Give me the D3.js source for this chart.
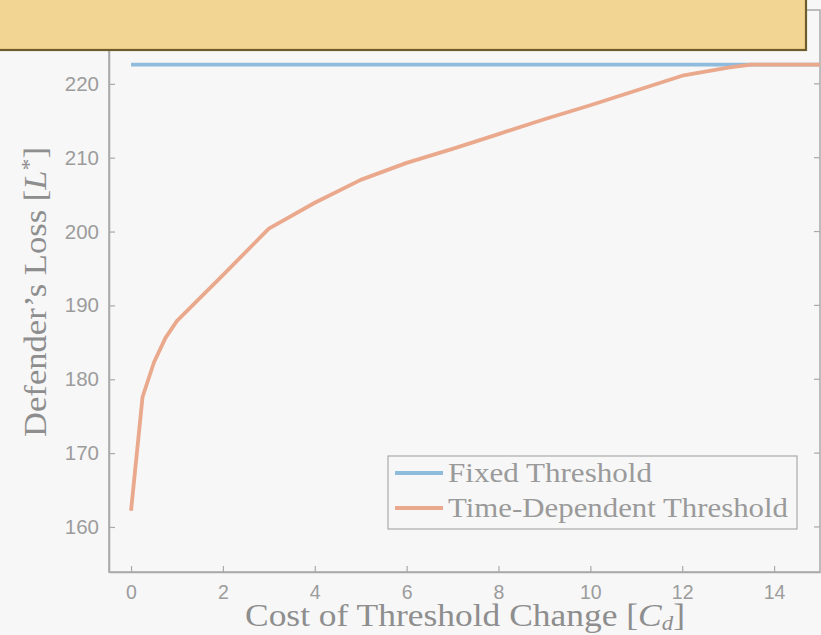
<!DOCTYPE html>
<html>
<head>
<meta charset="utf-8">
<script src="https://cdn.jsdelivr.net/npm/d3@7"></script>
<style>
  html, body { margin: 0; padding: 0; background: #f7f7f7; }
  svg { display: block; }
</style>
</head>
<body>
<svg id="chart" width="821" height="635"></svg>
<script>
// Defender's loss against the cost of changing the detection threshold
const costValues = [0, 0.25, 0.5, 0.75, 1, 2, 3, 4, 5, 6, 7, 8, 9, 10, 11, 12, 13, 13.5, 14, 15];
const timeDependentLoss = [162.2, 177.6, 182.3, 185.6, 187.9, 194.1, 200.4, 203.9, 207.0, 209.3,
  211.2, 213.2, 215.2, 217.1, 219.1, 221.1, 222.2, 222.6, 222.6, 222.6];
const fixedCost = [0, 15];
const fixedLoss = [222.6, 222.6];
const xTicks = [0, 2, 4, 6, 8, 10, 12, 14];
const yTicks = [160, 170, 180, 190, 200, 210, 220];
const seriesNames = ["Fixed Threshold", "Time-Dependent Threshold"];
const seriesColors = ["#8fbcdc", "#eaa98d"];

const svg = d3.select("#chart");
const W = 821, H = 635;
const plot = { left: 109, right: 820, top: 10, bottom: 572 };

const x = d3.scaleLinear().domain([-0.48, 15]).range([plot.left, plot.right]);
const y = d3.scaleLinear().domain([153.9, 230]).range([plot.bottom, plot.top]);

const axisColor = "#a9a9a9";
const tickText = "#9c9c9c";
const labelText = "#8e8e8e";
const sans = "Liberation Sans, Arial, sans-serif";
const serif = "Liberation Serif, Times New Roman, serif";

svg.append("rect").attr("width", W).attr("height", H).attr("fill", "#f7f7f7");

// frame
svg.append("rect")
  .attr("x", plot.left).attr("y", plot.top)
  .attr("width", plot.right - plot.left).attr("height", plot.bottom - plot.top)
  .attr("fill", "none").attr("stroke", axisColor).attr("stroke-width", 1.5);

// bottom axis, ticks pointing inward
const xAxis = svg.append("g")
  .attr("transform", `translate(0,${plot.bottom})`)
  .call(d3.axisBottom(x).tickValues(xTicks).tickSizeInner(-6).tickSizeOuter(0).tickPadding(13));
xAxis.select(".domain").attr("stroke", axisColor).attr("stroke-width", 1.5);
xAxis.selectAll(".tick line").attr("stroke", axisColor).attr("stroke-width", 1.2);
xAxis.selectAll(".tick text")
  .attr("fill", tickText).attr("font-family", sans)
  .attr("font-size", 19.5).attr("dy", "0.71em");

// left axis
const yAxis = svg.append("g")
  .attr("transform", `translate(${plot.left},0)`)
  .call(d3.axisLeft(y).tickValues(yTicks).tickSizeInner(-6).tickSizeOuter(0).tickPadding(10));
yAxis.select(".domain").attr("stroke", axisColor).attr("stroke-width", 1.5);
yAxis.selectAll(".tick line").attr("stroke", axisColor).attr("stroke-width", 1.2);
yAxis.selectAll(".tick text")
  .attr("fill", tickText).attr("font-family", sans)
  .attr("font-size", 20.5);

// mirrored ticks on the right edge
svg.append("g").selectAll("line").data(yTicks).join("line")
  .attr("x1", plot.right - 6).attr("x2", plot.right)
  .attr("y1", d => y(d)).attr("y2", d => y(d))
  .attr("stroke", axisColor).attr("stroke-width", 1.2);

// series
const line = d3.line().x(d => x(d[0])).y(d => y(d[1]));
svg.append("path")
  .datum(d3.zip(fixedCost, fixedLoss))
  .attr("d", line).attr("fill", "none")
  .attr("stroke", seriesColors[0]).attr("stroke-width", 3.8);
svg.append("path")
  .datum(d3.zip(costValues, timeDependentLoss))
  .attr("d", line).attr("fill", "none")
  .attr("stroke", seriesColors[1]).attr("stroke-width", 3.8)
  .attr("stroke-linejoin", "round");

// axis titles
const xl = svg.append("text")
  .attr("x", 465).attr("y", 626).attr("text-anchor", "middle")
  .attr("font-family", serif).attr("font-size", 31).attr("fill", labelText)
  .attr("textLength", 440).attr("lengthAdjust", "spacingAndGlyphs");
xl.append("tspan").text("Cost of Threshold Change [");
xl.append("tspan").attr("font-style", "italic").text("C");
xl.append("tspan").attr("font-style", "italic").attr("font-size", 20).attr("dy", 4).text("d");
xl.append("tspan").attr("dy", -4).text("]");

const yl = svg.append("text")
  .attr("transform", "translate(46,292) rotate(-90)")
  .attr("text-anchor", "middle")
  .attr("font-family", serif).attr("font-size", 32).attr("fill", labelText)
  .attr("textLength", 290).attr("lengthAdjust", "spacingAndGlyphs");
yl.append("tspan").text("Defender\u2019s Loss [");
yl.append("tspan").attr("font-style", "italic").text("L");
yl.append("tspan").attr("font-size", 22).attr("dy", -10).text("*");
yl.append("tspan").attr("dy", 10).text("]");

// legend
const legend = svg.append("g").attr("transform", "translate(388,456)");
legend.append("rect").attr("width", 409).attr("height", 73)
  .attr("fill", "#f7f7f7").attr("stroke", "#aaaaaa").attr("stroke-width", 1.2);
const legendWidths = [204, 340];
seriesNames.forEach((name, i) => {
  const cy = 17 + i * 35;
  legend.append("line").attr("x1", 7).attr("x2", 55).attr("y1", cy).attr("y2", cy)
    .attr("stroke", seriesColors[i]).attr("stroke-width", 3.8);
  legend.append("text").attr("x", 60).attr("y", cy + 9)
    .attr("font-family", serif).attr("font-size", 27).attr("fill", "#9a9a9a")
    .attr("textLength", legendWidths[i]).attr("lengthAdjust", "spacingAndGlyphs")
    .text(name);
});

// title banner across the top
svg.append("rect").attr("x", -4).attr("y", -4).attr("width", 810).attr("height", 54)
  .attr("fill", "#f2d592").attr("stroke", "#6e5c2c").attr("stroke-width", 2.2);
</script>
</body>
</html>
